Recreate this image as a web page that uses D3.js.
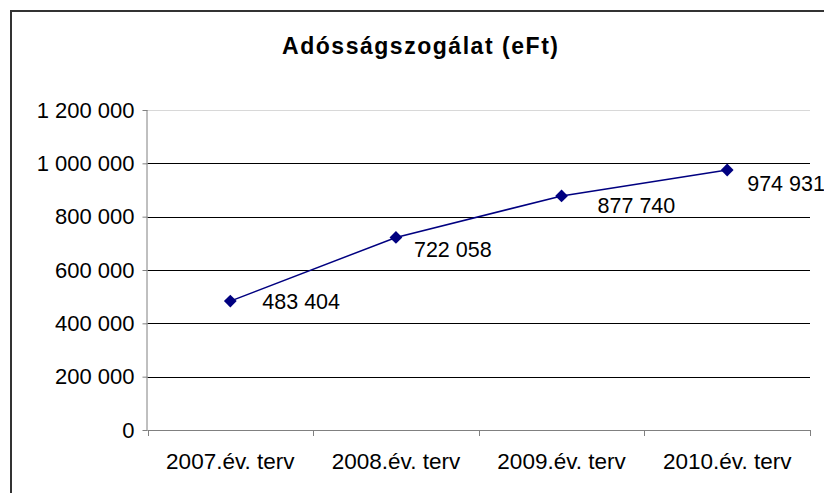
<!DOCTYPE html>
<html>
<head>
<meta charset="utf-8">
<script src="https://cdn.jsdelivr.net/npm/d3@7.9.0/dist/d3.min.js"></script>
<style>
  body { margin: 0; background: #fff; }
  svg { display: block; font-family: "Liberation Sans", Arial, sans-serif; }
</style>
</head>
<body>
<svg id="chart" width="824" height="493"></svg>
<script>
const categories = ['2007.év. terv', '2008.év. terv', '2009.év. terv', '2010.év. terv'];
const values = [483404, 722058, 877740, 974931];
const yTicks = [0, 200000, 400000, 600000, 800000, 1000000, 1200000];

// label nudges (px) so they sit like in the original
const labelDx = [32, 18, 36, 20];
const labelDy = [0, 12, 10, 13];

const svg = d3.select('#chart');
const margin = { left: 147.5, right: 14, top: 110, bottom: 63 };
const W = 824, H = 493;

// outer chart frame, cut by the window on right/bottom
svg.append('rect')
  .attr('x', 11).attr('y', 11)
  .attr('width', 900).attr('height', 600)
  .attr('fill', 'none')
  .attr('stroke', '#333')
  .attr('stroke-width', 2);

svg.append('text')
  .attr('x', 420).attr('y', 54)
  .attr('text-anchor', 'middle')
  .attr('font-size', 23)
  .attr('font-weight', 'bold')
  .attr('textLength', 276)
  .attr('lengthAdjust', 'spacing')
  .text('Adósságszogálat (eFt)');

let x = d3.scaleBand()
  .domain(categories)
  .range([margin.left, W - margin.right]);

let y = d3.scaleLinear()
  .domain([0, 1200000])
  .range([H - margin.bottom, margin.top]);

const fmt = v => d3.format(',')(v).replace(/,/g, ' ');

// gridlines
svg.append('g')
  .selectAll('line')
  .data(yTicks.filter(d => d > 0))
  .join('line')
  .attr('x1', margin.left).attr('x2', W - margin.right)
  .attr('y1', d => Math.round(y(d)) + 0.5).attr('y2', d => Math.round(y(d)) + 0.5)
  .attr('stroke', d => d === 1200000 ? '#d8d8d8' : '#000')
  .attr('stroke-width', 1);

// y axis
let yAxis = svg.append('g')
  .attr('transform', `translate(${margin.left},0)`)
  .call(d3.axisLeft(y).tickValues(yTicks).tickSize(5).tickPadding(8).tickFormat(fmt));
yAxis.select('.domain').attr('stroke', '#808080').attr('d', `M-0.5,${y(1200000)}V${y(0)}`);
yAxis.selectAll('.tick line').attr('stroke', '#808080');
yAxis.selectAll('.tick text')
  .attr('font-size', 22)
  .attr('fill', '#000')
  .attr('font-family', '"Liberation Sans", Arial, sans-serif');

// x axis
let xAxis = svg.append('g')
  .attr('transform', `translate(0,${y(0)})`)
  .call(d3.axisBottom(x).tickSize(0).tickPadding(23));
xAxis.select('.domain').attr('stroke', '#808080').attr('d', `M${margin.left},0.5H${W - margin.right}`);
xAxis.selectAll('.tick text')
  .attr('font-size', 22.5)
  .attr('fill', '#000')
  .attr('font-family', '"Liberation Sans", Arial, sans-serif');
// tick marks at category boundaries
xAxis.append('g')
  .selectAll('line')
  .data(categories.map(c => x(c)).concat([x(categories[categories.length - 1]) + x.bandwidth()]))
  .join('line')
  .attr('x1', d => Math.round(d) + 0.5).attr('x2', d => Math.round(d) + 0.5)
  .attr('y1', 0).attr('y2', 6)
  .attr('stroke', '#808080');

// line
const pts = categories.map((c, i) => ({ c, v: values[i], i }));
let line = d3.line()
  .x(d => x(d.c) + x.bandwidth() / 2)
  .y(d => y(d.v));

svg.append('path')
  .datum(pts)
  .attr('d', line)
  .attr('fill', 'none')
  .attr('stroke', '#000080')
  .attr('stroke-width', 1.5);

const diamond = d3.symbol().type(d3.symbolSquare).size(82);
svg.append('g')
  .selectAll('path')
  .data(pts)
  .join('path')
  .attr('d', diamond)
  .attr('transform', d => `translate(${x(d.c) + x.bandwidth() / 2},${y(d.v)}) rotate(45)`)
  .attr('fill', '#000080');

svg.append('g')
  .selectAll('text')
  .data(pts)
  .join('text')
  .attr('x', d => x(d.c) + x.bandwidth() / 2 + labelDx[d.i])
  .attr('y', d => y(d.v) + labelDy[d.i])
  .attr('dy', '0.35em')
  .attr('font-size', 21.5)
  .attr('fill', '#000')
  .text(d => fmt(d.v));
</script>
</body>
</html>
